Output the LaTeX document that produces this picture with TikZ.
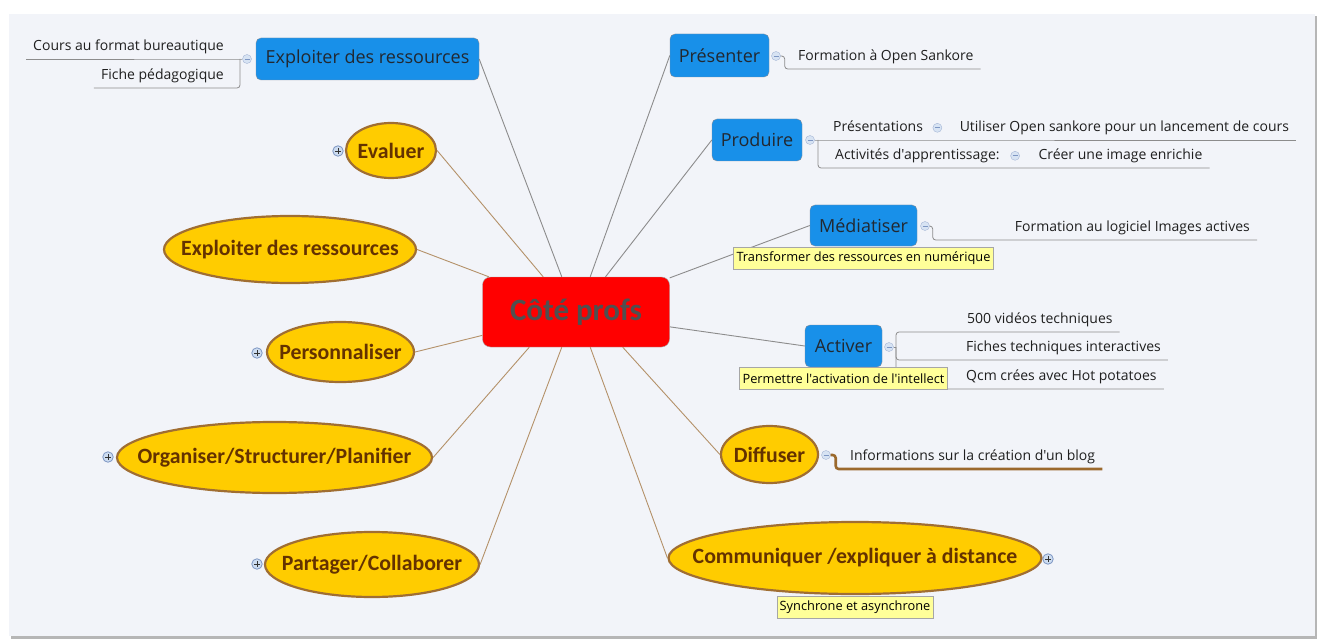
\documentclass[tikz,border=0pt]{standalone}
\usepackage{fontspec}
\setmainfont{Open Sans}[Ligatures=TeXOff]
\newfontfamily\carlito{Carlito}
\usetikzlibrary{positioning,shapes.geometric}

\definecolor{panel}{RGB}{242,244,249}
\definecolor{panelshadow}{RGB}{182,182,182}
\definecolor{topicblue}{RGB}{24,144,233}
\definecolor{blueink}{RGB}{34,40,48}
\definecolor{blueborder}{RGB}{128,140,155}
\definecolor{gold}{RGB}{255,204,0}
\definecolor{goldborder}{RGB}{160,110,50}
\definecolor{goldink}{RGB}{100,50,0}
\definecolor{tanline}{RGB}{180,145,105}
\definecolor{greyline}{RGB}{140,140,140}
\definecolor{noteyellow}{RGB}{255,255,153}
\definecolor{btnfill}{RGB}{205,220,240}
\definecolor{btnborder}{RGB}{125,150,195}
\definecolor{centreink}{RGB}{80,80,80}
\definecolor{blogbrown}{RGB}{155,105,45}

\begin{document}
\begin{tikzpicture}[x=1pt,y=-1pt,
  centre/.style={rectangle,rounded corners=8pt,draw=black!35,fill=red,text=centreink,
    font=\carlito\bfseries\fontsize{31}{36}\selectfont,minimum width=187pt,minimum height=70pt,inner sep=0pt},
  bluetopic/.style={rectangle,rounded corners=5pt,draw=blueborder,fill=topicblue,text=blueink,
    font=\fontsize{18}{21}\selectfont,minimum height=42pt,inner sep=0pt},
  goldtopic/.style={ellipse,draw=goldborder,line width=2.2pt,fill=gold,inner sep=0pt},
  goldtext/.style={text=goldink,font=\carlito\bfseries\fontsize{21.8}{26}\selectfont,inner sep=0pt},
  leaf/.style={text=black!88,font=\fontsize{14}{17}\selectfont,inner xsep=7pt,inner ysep=5pt,
    text height=10.5pt,text depth=3.5pt},
  notebox/.style={rectangle,draw=black!35,fill=noteyellow,text=black,font=\fontsize{12.8}{15}\selectfont,
    inner xsep=3pt,inner ysep=0pt,minimum height=22pt},
  btnminus/.style={circle,draw=btnborder!70,fill=btnfill!80,minimum size=9pt,inner sep=0pt,
    path picture={\draw[btnborder,line width=0.7pt] ([xshift=-2.5pt]path picture bounding box.center)
      -- ([xshift=2.5pt]path picture bounding box.center);}},
  btnplus/.style={btnminus,draw=btnborder,fill=btnfill,minimum size=10.5pt,line width=0.8pt,
    path picture={\draw[black!80,line width=0.9pt] ([xshift=-3pt]path picture bounding box.center)
      -- ([xshift=3pt]path picture bounding box.center)
      ([yshift=-3pt]path picture bounding box.center) -- ([yshift=3pt]path picture bounding box.center);}},
  toblue/.style={draw=greyline,line width=0.9pt},
  togold/.style={draw=tanline,line width=0.9pt},
  leafline/.style={draw=greyline,line width=0.8pt},
  blogline/.style={draw=blogbrown,line width=2.6pt}]

  % page and panel
  \fill[white] (0,0) rectangle (1317,639);
  \fill[panelshadow] (11,16) rectangle (1317,639);
  \fill[panel] (9,14) rectangle (1315,636);
  \useasboundingbox (0,0) rectangle (1317,639);

  % central topic
  \node[centre] (cp) at (576,312) {Côté profs};

  % blue topics
  \node[bluetopic,minimum width=223pt] (bex) at (367.5,59) {Exploiter des ressources};
  \node[bluetopic,minimum width=99pt,minimum height=43pt] (pres) at (719.5,55.5) {Présenter};
  \node[bluetopic,minimum width=90pt] (prod) at (757,140) {Produire};
  \node[bluetopic,minimum width=107pt,minimum height=41pt] (med) at (863.5,225.5) {Médiatiser};
  \node[bluetopic,minimum width=77pt] (act) at (843.5,346) {Activer};

  % gold topics
  \node[goldtopic,minimum width=90pt,minimum height=55pt,label={[goldtext]center:{Evaluer}}] (ev) at (391,150.5) {};
  \node[goldtopic,minimum width=252pt,minimum height=67pt,label={[goldtext]center:{Exploiter des ressources}}] (exr) at (290,249.5) {};
  \node[goldtopic,minimum width=147pt,minimum height=60pt,label={[goldtext]center:{Personnaliser}}] (pers) at (340.5,352) {};
  \node[goldtopic,minimum width=315pt,minimum height=71pt,label={[goldtext]center:{Organiser/Structurer/Planifier}}] (org) at (274.5,457.5) {};
  \node[goldtopic,minimum width=214pt,minimum height=65pt,label={[goldtext]center:{Partager/Collaborer}}] (par) at (372,564.5) {};
  \node[goldtopic,minimum width=373pt,minimum height=72pt,label={[goldtext]center:{Communiquer /expliquer à distance}}] (com) at (855,558) {};
  \node[goldtopic,minimum width=97pt,minimum height=57pt,label={[goldtext]center:{Diffuser}}] (dif) at (769.5,454.5) {};

  % collapsed markers
  \node[btnplus] (evp) at (338,151) {};
  \node[btnplus] (persp) at (257,353) {};
  \node[btnplus] (orgp) at (108,457) {};
  \node[btnplus] (parp) at (257,564) {};
  \node[btnplus] (comp) at (1048,559) {};

  % branches
  \draw[togold] (cp.133) -- (ev.east);
  \draw[toblue] (cp.112) -- (bex.east);
  \draw[toblue] (cp.68) -- (pres.west);
  \draw[toblue] (cp.50) -- (prod.west);
  \draw[toblue] (cp.20) -- (med.west);
  \draw[toblue] (cp.-9) -- (act.west);
  \draw[togold] (cp.158) -- (exr.east);
  \draw[togold] (cp.194) -- (pers.east);
  \draw[togold] (cp.217) -- (org.east);
  \draw[togold] (cp.248) -- (par.east);
  \draw[togold] (cp.292) -- (com.west);
  \draw[togold] (cp.323) -- (dif.west);

  % Exploiter des ressources (blue)
  \node[btnminus] (bexm) at (247,59) {};
  \coordinate (bexb) at (240,59);
  \node[leaf,anchor=south east] (lcours) at (231,59) {Cours au format bureautique};
  \node[leaf,anchor=south east] (lfiche) at (231,88) {Fiche pédagogique};
  \draw[leafline] (bexm.west) -- (bexb) -- (lcours.south west);
  \draw[leafline,rounded corners=3pt] (bexb) |- (lfiche.south west);

  % Presenter
  \node[btnminus] (presm) at (776,56) {};
  \node[leaf,anchor=south west] (lsank) at (791,69) {Formation à Open Sankore};
  \draw[leafline,rounded corners=3pt] (presm.east) -- ++(4,0) |- (lsank.south east);

  % Produire
  \node[btnminus] (prodm) at (810,140) {};
  \coordinate (prodb) at (818,140);
  \node[leaf,anchor=south west] (lpres) at (826,140) {Présentations};
  \node[btnminus,right=2.5pt of lpres] (lpresm) {};
  \node[leaf,right=10.5pt of lpresm] (lutil) {Utiliser Open sankore pour un lancement de cours};
  \node[leaf,anchor=south west] (lactiv) at (828,168) {Activités d'apprentissage:};
  \node[btnminus,right=3.5pt of lactiv] (lactivm) {};
  \node[leaf,right=11.5pt of lactivm] (lcree) {Créer une image enrichie};
  \draw[leafline] (prodm.east) -- (prodb) -- (lutil.south east);
  \draw[leafline,rounded corners=3pt] (prodb) |- (lcree.south east);

  % Mediatiser
  \node[btnminus] (medm) at (925,226) {};
  \node[leaf,anchor=south east] (limg) at (1257,240) {Formation au logiciel Images actives};
  \draw[leafline,rounded corners=3pt] (medm.east) -- ++(3,0) |- (limg.south east);

  % Activer
  \node[btnminus] (actm) at (889,347) {};
  \coordinate (actb) at (896,347);
  \node[leaf,anchor=south west] (lvid) at (960,332) {500 vidéos techniques};
  \node[leaf,anchor=south west] (lfich) at (959,360) {Fiches techniques interactives};
  \node[leaf,anchor=south west] (lqcm) at (959,389) {Qcm crées avec Hot potatoes};
  \draw[leafline] (actm.east) -- (actb);
  \draw[leafline,rounded corners=3pt] (actb) |- (lvid.south east);
  \draw[leafline,rounded corners=3pt] (actb) |- (lfich.south east);
  \draw[leafline,rounded corners=3pt] (actb) |- (lqcm.south east);

  % Diffuser
  \node[btnminus] (difm) at (826,455) {};
  \node[leaf,anchor=south west] (lblog) at (843,469) {Informations sur la création d'un blog};
  \draw[blogline,rounded corners=3pt] (difm.east) -- ++(5,0) |- (lblog.south east);

  % notes
  \node[notebox,below=1pt of med] (nmed) {Transformer des ressources en numérique};
  \node[notebox,below=0pt of act] (nact) {Permettre l'activation de l'intellect};
  \node[notebox,below=1pt of com] (ncom) {Synchrone et asynchrone};
\end{tikzpicture}
\end{document}
